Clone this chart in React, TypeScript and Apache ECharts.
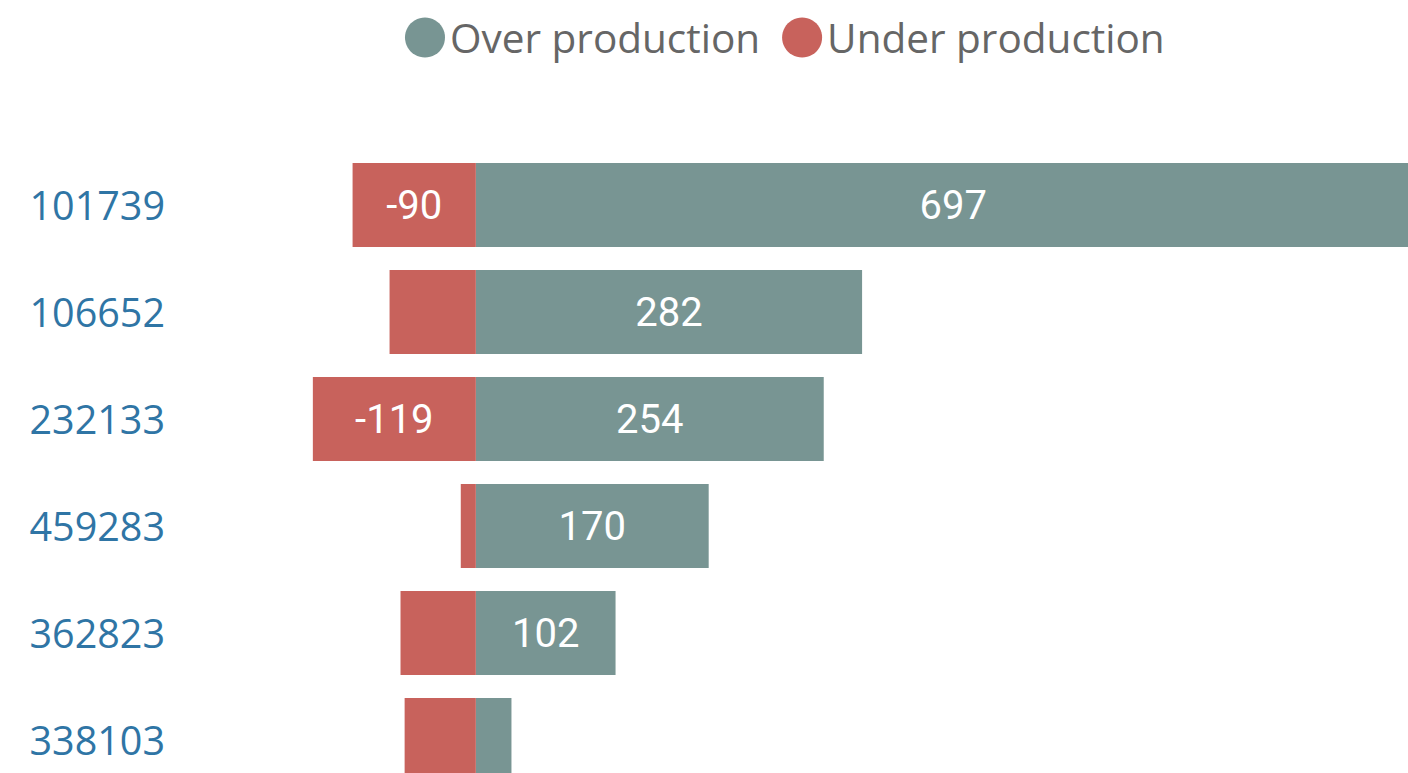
import React, { useEffect, useRef } from "react";
import * as echarts from "echarts";

const categories = ["101739", "106652", "232133", "459283", "362823", "338103"];
const overProduction = [697, 282, 254, 170, 102, 26];
const underProduction = [-90, -63, -119, -11, -55, -52];
const overLabelShown = [true, true, true, true, true, false];
const underLabelShown = [true, false, true, false, false, false];

const TEAL = "#789593";
const RED = "#C8625C";

export default function App() {
  const ref = useRef<HTMLDivElement>(null);
  useEffect(() => {
    if (!ref.current) return;
    const chart = echarts.init(ref.current, undefined, { renderer: "svg" });
    const labelStyle = {
      position: "inside",
      color: "#ffffff",
      fontFamily: "Roboto",
      fontSize: 40,
      formatter: (p: any) => String(p.value),
    };
    chart.setOption({
      animation: false,
      legend: {
        left: 400,
        top: 12,
        icon: "circle",
        itemWidth: 40,
        itemHeight: 40,
        itemGap: 22,
        textStyle: { color: "#666666", fontSize: 40.5, fontFamily: "'Open Sans', sans-serif" },
        data: ["Over production", "Under production"],
      },
      grid: { left: 180, width: 1282, top: 151.5, height: 642 },
      xAxis: {
        type: "value",
        min: -216,
        max: 720,
        show: false,
        splitLine: { show: false },
      },
      yAxis: {
        type: "category",
        data: categories,
        inverse: true,
        axisLine: { show: false },
        axisTick: { show: false },
        axisLabel: {
          color: "#2F75A5",
          fontSize: 39.5,
          fontFamily: "'Open Sans', sans-serif",
          margin: 15,
        },
      },
      series: [
        {
          name: "Over production",
          type: "bar",
          barWidth: 84,
          barGap: "-100%",
          itemStyle: { color: TEAL },
          data: overProduction.map((v, i) => ({
            value: v,
            label: { show: overLabelShown[i], ...labelStyle },
          })),
        },
        {
          name: "Under production",
          type: "bar",
          barWidth: 84,
          barGap: "-100%",
          itemStyle: { color: RED },
          data: underProduction.map((v, i) => ({
            value: v,
            label: { show: underLabelShown[i], ...labelStyle },
          })),
        },
      ],
    });
    return () => chart.dispose();
  }, []);
  return (
    <div
      style={{
        position: "fixed",
        left: 0,
        top: 0,
        width: 1408,
        height: 773,
        overflow: "hidden",
        background: "#ffffff",
      }}
    >
      <div ref={ref} style={{ width: 1500, height: 850 }} />
    </div>
  );
}
